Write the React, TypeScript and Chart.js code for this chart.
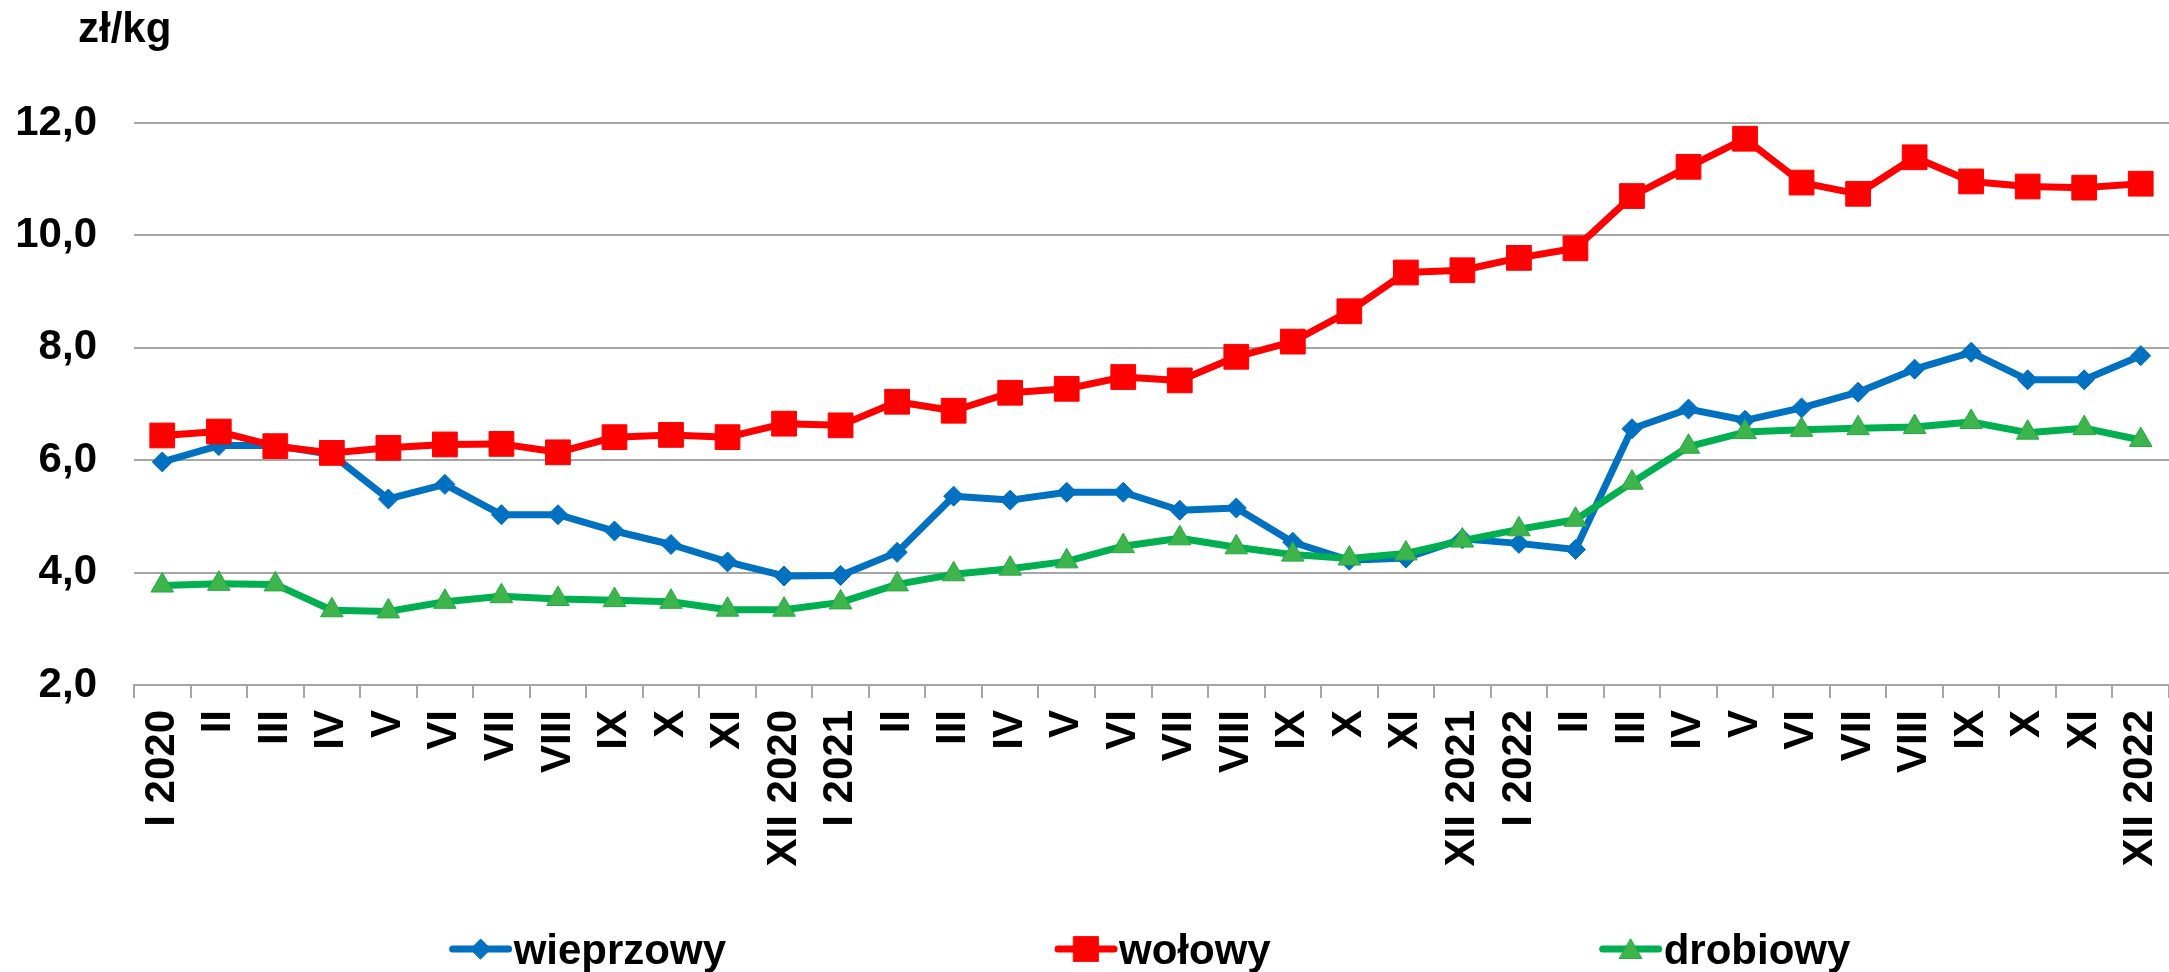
import React, { useEffect, useRef } from 'react';
import { Chart, registerables } from 'chart.js';
import { drawPoint } from 'chart.js/helpers';

Chart.register(...registerables);

const categories = [
  'I 2020', 'II', 'III', 'IV', 'V', 'VI', 'VII', 'VIII', 'IX', 'X', 'XI', 'XII 2020',
  'I 2021', 'II', 'III', 'IV', 'V', 'VI', 'VII', 'VIII', 'IX', 'X', 'XI', 'XII 2021',
  'I 2022', 'II', 'III', 'IV', 'V', 'VI', 'VII', 'VIII', 'IX', 'X', 'XI', 'XII 2022',
];

const wieprzowy = [
  5.97, 6.26, 6.26, 6.10, 5.31, 5.57, 5.03, 5.03, 4.74, 4.50, 4.19, 3.94,
  3.95, 4.36, 5.36, 5.29, 5.43, 5.43, 5.11, 5.15, 4.54, 4.22, 4.26, 4.60,
  4.52, 4.41, 6.56, 6.91, 6.71, 6.93, 7.21, 7.62, 7.92, 7.43, 7.43, 7.86,
];

const wolowy = [
  6.44, 6.51, 6.25, 6.13, 6.22, 6.28, 6.29, 6.14, 6.41, 6.45, 6.41, 6.65,
  6.62, 7.04, 6.88, 7.20, 7.27, 7.48, 7.42, 7.84, 8.11, 8.65, 9.34, 9.38,
  9.60, 9.77, 10.70, 11.22, 11.72, 10.94, 10.74, 11.39, 10.96, 10.87, 10.85, 10.92,
];

const drobiowy = [
  3.77, 3.80, 3.79, 3.33, 3.31, 3.48, 3.58, 3.53, 3.51, 3.48, 3.34, 3.34,
  3.47, 3.79, 3.97, 4.07, 4.20, 4.47, 4.61, 4.45, 4.32, 4.25, 4.34, 4.57,
  4.77, 4.94, 5.60, 6.24, 6.50, 6.54, 6.57, 6.59, 6.68, 6.49, 6.57, 6.36,
];

const seriesNames = ['wieprzowy', 'wołowy', 'drobiowy'];
const unitLabel = 'zł/kg';
const yMin = 2;
const yMax = 12;
const yStep = 2;

const FONT = "'Liberation Sans', Arial, Helvetica, sans-serif";
const W = 2169;
const H = 972;

const titlePlugin = {
  id: 'unitTitle',
  afterDraw(chart: any) {
    const ctx = chart.ctx;
    ctx.save();
    ctx.font = `bold 42px ${FONT}`;
    ctx.fillStyle = '#000';
    ctx.textAlign = 'left';
    ctx.textBaseline = 'alphabetic';
    ctx.fillText(unitLabel, 78, 42);
    ctx.restore();
  },
};

const legendPlugin = {
  id: 'spacedLegend',
  afterDraw(chart: any) {
    const ctx = chart.ctx;
    const area = chart.chartArea;
    const lineLen = 56;
    const textGap = 5;
    const itemGap = 332;
    const yLine = 949;
    const yText = 964;
    ctx.save();
    ctx.font = `bold 42px ${FONT}`;
    const items = chart.data.datasets.map((ds: any) => {
      const tw = ctx.measureText(ds.label).width;
      return { ds, w: lineLen + textGap + tw };
    });
    const total = items.reduce((s: number, it: any) => s + it.w, 0) + itemGap * (items.length - 1);
    let x = (area.left + area.right) / 2 - total / 2;
    items.forEach((it: any) => {
      const ds = it.ds;
      ctx.strokeStyle = ds.borderColor;
      ctx.lineWidth = ds.borderWidth;
      ctx.lineCap = 'round';
      ctx.beginPath();
      ctx.moveTo(x, yLine);
      ctx.lineTo(x + lineLen, yLine);
      ctx.stroke();
      ctx.fillStyle = ds.pointBackgroundColor;
      ctx.strokeStyle = ds.pointBorderColor;
      ctx.lineWidth = ds.pointBorderWidth;
      drawPoint(ctx, { pointStyle: ds.pointStyle, radius: ds.pointRadius, rotation: 0, borderWidth: ds.pointBorderWidth }, x + lineLen / 2, yLine + (ds.pointStyle === 'triangle' ? 3 : 0));
      ctx.fillStyle = '#000';
      ctx.textAlign = 'left';
      ctx.textBaseline = 'alphabetic';
      ctx.fillText(ds.label, x + lineLen + textGap, yText);
      x += it.w + itemGap;
    });
    ctx.restore();
  },
};

export default function App() {
  const ref = useRef<HTMLCanvasElement | null>(null);

  useEffect(() => {
    if (!ref.current) return;
    const chart = new Chart(ref.current, {
      type: 'line',
      data: {
        labels: categories,
        datasets: [
          {
            label: seriesNames[0],
            data: wieprzowy,
            borderColor: '#0070C0',
            backgroundColor: '#0070C0',
            borderWidth: 7,
            pointStyle: 'rectRot',
            pointRadius: 10,
            pointBackgroundColor: '#0070C0',
            pointBorderColor: '#0070C0',
            pointBorderWidth: 1,
            tension: 0,
            clip: false,
            order: 3,
          },
          {
            label: seriesNames[1],
            data: wolowy,
            borderColor: '#FF0000',
            backgroundColor: '#FF0000',
            borderWidth: 7,
            pointStyle: 'rect',
            pointRadius: 17.5,
            pointBackgroundColor: '#FF0000',
            pointBorderColor: '#FF0000',
            pointBorderWidth: 1,
            tension: 0,
            clip: false,
            order: 2,
          },
          {
            label: seriesNames[2],
            data: drobiowy,
            borderColor: '#00B050',
            backgroundColor: '#3CB44B',
            borderWidth: 7,
            pointStyle: 'triangle',
            pointRadius: 13,
            pointBackgroundColor: '#3DB54C',
            pointBorderColor: '#25A845',
            pointBorderWidth: 1,
            tension: 0,
            clip: false,
            order: 1,
          },
        ],
      },
      options: {
        responsive: false,
        animation: false,
        devicePixelRatio: 1,
        layout: { autoPadding: false, padding: { top: 123, left: 0, right: 0, bottom: 0 } },
        plugins: {
          legend: { display: false },
          title: { display: false },
          tooltip: { enabled: false },
        },
        elements: { line: { borderJoinStyle: 'round' } },
        scales: {
          x: {
            type: 'category',
            offset: true,
            grid: {
              offset: true,
              drawOnChartArea: false,
              drawTicks: true,
              tickLength: 13,
              color: '#A6A6A6',
              lineWidth: 2,
            },
            border: { display: true, color: '#A6A6A6', width: 2 },
            ticks: {
              autoSkip: false,
              maxRotation: 90,
              minRotation: 90,
              padding: 12,
              color: '#000',
              font: { family: FONT, size: 42, weight: 'bold' },
            },
            afterFit: (scale: any) => {
              scale.height = 287;
              scale.paddingLeft = 0;
              scale.paddingRight = 0;
            },
          },
          y: {
            min: yMin,
            max: yMax,
            grid: {
              drawTicks: false,
              color: '#A6A6A6',
              lineWidth: 2,
            },
            border: { display: false },
            ticks: {
              stepSize: yStep,
              padding: 37,
              color: '#000',
              font: { family: FONT, size: 42, weight: 'bold' },
              callback: (v: any) => Number(v).toFixed(1).replace('.', ','),
            },
            afterFit: (scale: any) => {
              scale.width = 134;
              scale.paddingTop = 0;
              scale.paddingBottom = 0;
            },
          },
        },
      },
      plugins: [titlePlugin, legendPlugin],
    });
    return () => chart.destroy();
  }, []);

  return (
    <div style={{ position: 'absolute', left: 0, top: 0, width: W, height: H, background: '#fff' }}>
      <canvas ref={ref} width={W} height={H} style={{ display: 'block', width: W, height: H }} />
    </div>
  );
}
